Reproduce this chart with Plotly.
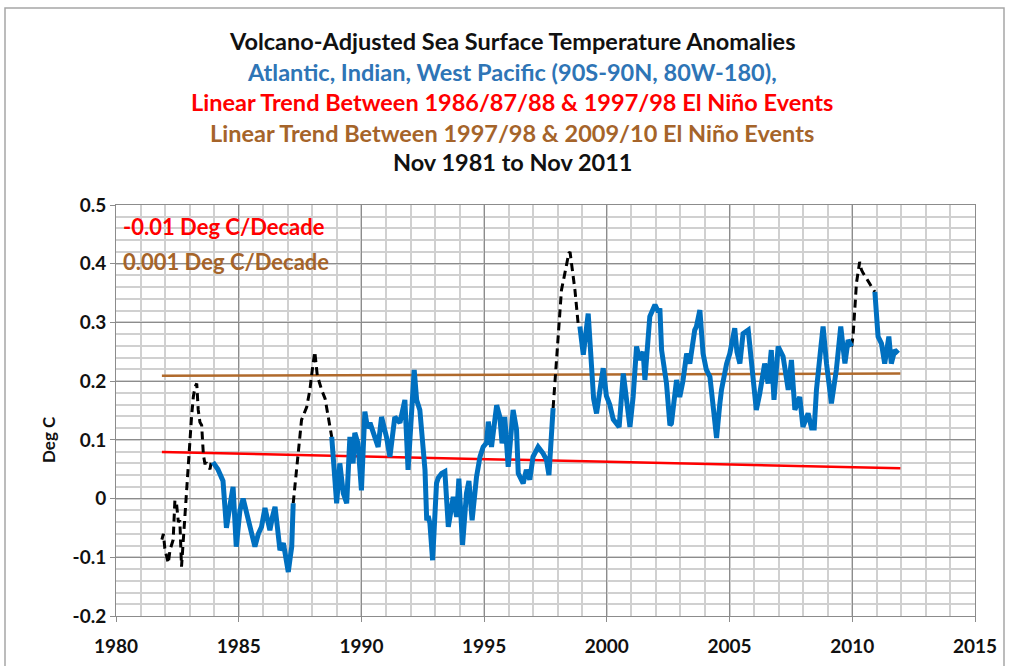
import plotly.graph_objects as go

# ---------------- data ----------------
# Blue: volcano-adjusted SST anomalies outside El Nino periods (segments separated by None)
blue_years = [
    1983.95, 1984.15, 1984.36, 1984.5, 1984.65, 1984.77, 1984.9, 1985.05, 1985.18, 1985.3,
    1985.45, 1985.66, 1985.8, 1985.93, 1986.07, 1986.17, 1986.27, 1986.38, 1986.48, 1986.58,
    1986.68, 1986.82, 1986.92, 1987.02, 1987.1, 1987.16, 1987.22,
    None,
    1988.79, 1988.9, 1988.99, 1989.12, 1989.26, 1989.4, 1989.53, 1989.66, 1989.73, 1989.86,
    1990.0, 1990.14, 1990.25, 1990.35, 1990.55, 1990.68, 1990.82, 1991.02, 1991.16, 1991.36,
    1991.57, 1991.77, 1991.9, 1992.04, 1992.15, 1992.25, 1992.38, 1992.59, 1992.66, 1992.72,
    1992.79, 1992.9, 1993.06, 1993.13, 1993.27, 1993.4, 1993.54, 1993.74, 1993.88, 1993.97,
    1994.12, 1994.28, 1994.38, 1994.51, 1994.69, 1994.83, 1994.96, 1995.1, 1995.17, 1995.3,
    1995.51, 1995.64, 1995.73, 1995.84, 1995.98, 1996.18, 1996.32, 1996.39, 1996.59, 1996.72,
    1996.86, 1996.99, 1997.2, 1997.4, 1997.54, 1997.64, 1997.81,
    None,
    1998.9, 1999.04, 1999.24, 1999.38, 1999.46, 1999.58, 1999.72, 1999.85, 1999.98, 2000.12,
    2000.26, 2000.4, 2000.5, 2000.67, 2000.8, 2000.94, 2001.07, 2001.21, 2001.34, 2001.48,
    2001.55, 2001.75, 2001.96, 2002.1, 2002.16, 2002.23, 2002.43, 2002.57, 2002.63, 2002.84,
    2002.97, 2003.1, 2003.25, 2003.38, 2003.58, 2003.65, 2003.79, 2003.92, 2004.05, 2004.2,
    2004.35, 2004.47, 2004.6, 2004.67, 2004.88, 2005.01, 2005.21, 2005.3, 2005.42, 2005.55,
    2005.76, 2005.89, 2006.0, 2006.09, 2006.23, 2006.43, 2006.57, 2006.7, 2006.81, 2006.98,
    2007.18, 2007.39, 2007.52, 2007.66, 2007.86, 2007.99, 2008.2, 2008.34, 2008.45, 2008.54,
    2008.7, 2008.81, 2008.95, 2009.15, 2009.35, 2009.53, 2009.7, 2009.83, 2009.97,
    None,
    2010.92, 2011.05, 2011.19, 2011.32, 2011.49, 2011.59, 2011.73, 2011.87,
]
blue_values = [
    0.062, 0.05, 0.03, -0.05, -0.01, 0.02, -0.082, -0.02, 0.0, -0.02,
    -0.05, -0.082, -0.06, -0.048, -0.016, -0.035, -0.054, -0.03, -0.014, -0.05,
    -0.088, -0.076, -0.1, -0.125, -0.1, -0.082, -0.008,
    None,
    0.105, 0.04, -0.008, 0.06, 0.009, -0.008, 0.105, 0.06, 0.112, 0.094,
    0.014, 0.148, 0.12, 0.129, 0.105, 0.088, 0.139, 0.105, 0.071, 0.139,
    0.129, 0.168, 0.049, 0.151, 0.219, 0.168, 0.151, 0.049, -0.037, -0.03,
    -0.042, -0.105, 0.026, 0.035, 0.043, 0.046, -0.048, 0.003, -0.031, 0.034,
    -0.079, 0.009, 0.03, -0.037, 0.037, 0.071, 0.088, 0.095, 0.131, 0.088,
    0.159, 0.139, 0.094, 0.139, 0.054, 0.151, 0.117, 0.043, 0.026, 0.049,
    0.032, 0.071, 0.088, 0.077, 0.066, 0.04, 0.154,
    None,
    0.293, 0.245, 0.315, 0.23, 0.17, 0.145, 0.19, 0.222, 0.175, 0.16,
    0.135, 0.125, 0.122, 0.213, 0.173, 0.122, 0.173, 0.259, 0.236, 0.25,
    0.202, 0.31, 0.33, 0.318, 0.324, 0.253, 0.196, 0.125, 0.128, 0.202,
    0.173, 0.2, 0.247, 0.23, 0.287, 0.293, 0.321, 0.247, 0.22, 0.207,
    0.15, 0.103, 0.16, 0.185, 0.23, 0.247, 0.29, 0.25, 0.23, 0.281,
    0.287, 0.225, 0.19, 0.151, 0.179, 0.23, 0.196, 0.253, 0.168, 0.259,
    0.242, 0.185, 0.236, 0.151, 0.173, 0.122, 0.145, 0.12, 0.12, 0.185,
    0.25, 0.293, 0.23, 0.162, 0.219, 0.293, 0.23, 0.27, 0.259,
    None,
    0.352, 0.276, 0.264, 0.23, 0.276, 0.23, 0.253, 0.247,
]

# Black dashed: El Nino periods (segments separated by None)
black_years = [
    1981.87, 1981.93, 1981.99, 1982.06, 1982.13, 1982.2, 1982.27, 1982.33, 1982.4, 1982.47,
    1982.54, 1982.6, 1982.67, 1982.74, 1982.81, 1982.88, 1982.95, 1983.01, 1983.08, 1983.15,
    1983.22, 1983.29, 1983.35, 1983.42, 1983.49, 1983.56, 1983.62, 1983.69, 1983.76, 1983.83,
    1983.89, 1983.95,
    None,
    1987.22, 1987.43, 1987.56, 1987.77, 1987.9, 1988.0, 1988.1, 1988.2, 1988.38, 1988.52,
    1988.65, 1988.79,
    None,
    1997.81, 1997.92, 1998.02, 1998.15, 1998.29, 1998.4, 1998.45, 1998.5, 1998.56, 1998.7,
    1998.83, 1998.9,
    None,
    2009.97, 2010.03, 2010.1, 2010.17, 2010.3, 2010.37, 2010.44, 2010.51, 2010.58, 2010.78,
    2010.92,
]
black_values = [
    -0.07, -0.06, -0.085, -0.1, -0.11, -0.088, -0.076, -0.07, -0.003, -0.01,
    -0.04, -0.037, -0.116, -0.07, -0.03, 0.01, 0.049, 0.1, 0.14, 0.173,
    0.19, 0.196, 0.151, 0.13, 0.125, 0.075, 0.06, 0.06, 0.054, 0.05,
    0.065, 0.062,
    None,
    -0.008, 0.077, 0.134, 0.156, 0.185, 0.22, 0.25, 0.21, 0.185, 0.17,
    0.14, 0.105,
    None,
    0.154, 0.22, 0.287, 0.355, 0.384, 0.41, 0.418, 0.42, 0.40, 0.355,
    0.298, 0.293,
    None,
    0.259, 0.276, 0.321, 0.367, 0.403, 0.39, 0.384, 0.38, 0.375, 0.361,
    0.352,
]

# Linear trends (start / end)
trend_years = [1981.87, 2011.96]
red_trend = [0.0795, 0.0515]
brown_trend = [0.209, 0.213]

title_lines = [
    ("Volcano-Adjusted Sea Surface Temperature Anomalies", "#111111"),
    ("Atlantic, Indian, West Pacific (90S-90N, 80W-180),", "#2E75B6"),
    ("Linear Trend Between 1986/87/88 & 1997/98 El Niño Events", "#FF0000"),
    ("Linear Trend Between 1997/98 & 2009/10 El Niño Events", "#A5642A"),
    ("Nov 1981 to Nov 2011", "#111111"),
]
trend_labels = [("-0.01 Deg C/Decade", "#FF0000", 0.464), ("0.001 Deg C/Decade", "#A5642A", 0.403)]

x_ticks = [1980, 1985, 1990, 1995, 2000, 2005, 2010, 2015]
y_ticks = [-0.2, -0.1, 0.0, 0.1, 0.2, 0.3, 0.4, 0.5]
y_ticktext = ["-0.2", "-0.1", "0", "0.1", "0.2", "0.3", "0.4", "0.5"]

FONT = "Lato"
BLUE = "#0070C0"
RED = "#FF0000"
BROWN = "#B06A2C"

fig = go.Figure()
fig.add_trace(go.Scatter(x=trend_years, y=brown_trend, mode="lines",
                         line=dict(color=BROWN, width=2.5), showlegend=False))
fig.add_trace(go.Scatter(x=trend_years, y=red_trend, mode="lines",
                         line=dict(color=RED, width=2.5), showlegend=False))
fig.add_trace(go.Scatter(x=black_years, y=black_values, mode="lines", connectgaps=False,
                         line=dict(color="#000000", width=3, dash="8px,5px"), showlegend=False))
fig.add_trace(go.Scatter(x=blue_years, y=blue_values, mode="lines", connectgaps=False,
                         line=dict(color=BLUE, width=5), showlegend=False))

# plot area in pixels: x 116..975, y 205..616
L, R, T, B = 116, 975, 205, 616
W, H = R - L, B - T

def px_x(p):
    return (p - L) / W

def px_y(p):
    return (B - p) / H

annotations = []
title_y = [41, 72, 102, 133, 162]
for (txt, col), yy in zip(title_lines, title_y):
    annotations.append(dict(text=txt, x=px_x(512), y=px_y(yy), xref="paper", yref="paper",
                            xanchor="center", yanchor="middle", showarrow=False,
                            font=dict(family=FONT, size=23.5, color=col, weight="bold")))
for txt, col, yv in trend_labels:
    annotations.append(dict(text=txt, x=1980.2, y=yv, xref="x", yref="y",
                            xanchor="left", yanchor="middle", showarrow=False,
                            font=dict(family=FONT, size=22, color=col, weight="bold")))
annotations.append(dict(text="Deg C", x=px_x(48), y=px_y(440), xref="paper", yref="paper",
                        textangle=-90, xanchor="center", yanchor="middle", showarrow=False,
                        font=dict(family=FONT, size=17, color="#111111", weight="bold")))

fig.update_layout(
    width=1009, height=666,
    margin=dict(l=L, r=1009 - R, t=T, b=666 - B),
    paper_bgcolor="white", plot_bgcolor="white",
    showlegend=False,
    annotations=annotations,
    shapes=[dict(type="rect", xref="paper", yref="paper",
                 x0=px_x(5), x1=px_x(1004), y0=px_y(700), y1=px_y(8),
                 line=dict(color="#A6A6A6", width=1.5), layer="below")],
)
fig.update_xaxes(
    range=[1980, 2015], tickvals=x_ticks, ticktext=[str(v) for v in x_ticks],
    showgrid=True, gridcolor="#8C8C8C", gridwidth=1,
    minor=dict(dtick=1, showgrid=True, gridcolor="#D0D0D0", gridwidth=1.5),
    showline=True, linecolor="#8C8C8C", linewidth=1, mirror=True,
    ticks="outside", ticklen=5, tickcolor="#8C8C8C", ticklabelstandoff=8,
    tickfont=dict(family=FONT, size=19, color="#111111", weight="bold"),
    zeroline=False, automargin=False,
)
fig.update_yaxes(
    range=[-0.2, 0.5], tickvals=y_ticks, ticktext=y_ticktext,
    showgrid=True, gridcolor="#8C8C8C", gridwidth=1,
    minor=dict(dtick=0.02, tick0=0, showgrid=True, gridcolor="#D0D0D0", gridwidth=1.5),
    showline=True, linecolor="#8C8C8C", linewidth=1, mirror=True,
    ticks="outside", ticklen=5, tickcolor="#8C8C8C",
    tickfont=dict(family=FONT, size=19, color="#111111", weight="bold"),
    zeroline=False, automargin=False,
)

fig.write_html("out.html", config={"displayModeBar": False},
               post_script="document.body.style.margin='0';")
